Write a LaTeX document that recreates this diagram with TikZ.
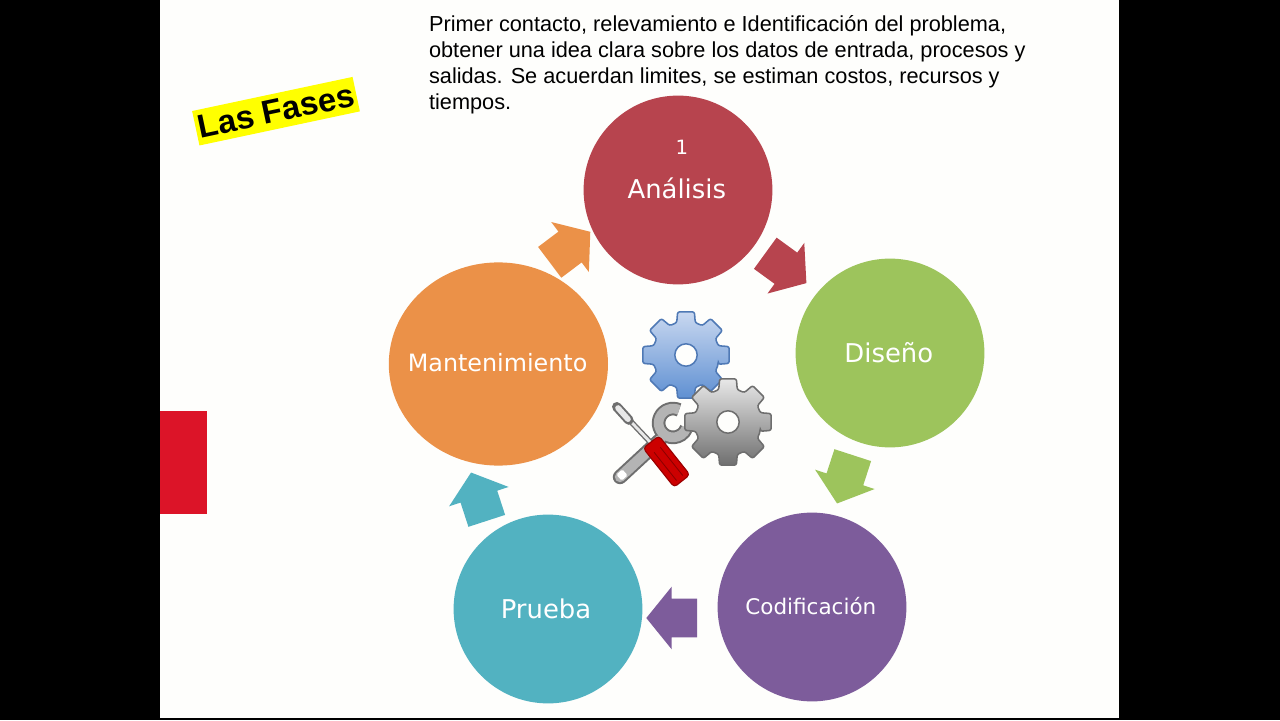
\documentclass[tikz,border=0pt]{standalone}
\usepackage{fontspec}
\setmainfont{Liberation Sans}
\newfontfamily\circfont{DejaVu Sans}
\usetikzlibrary{shapes.arrows,shapes.geometric}
\definecolor{rojofase}{HTML}{B7444E}
\definecolor{verdefase}{HTML}{9DC45C}
\definecolor{moradofase}{HTML}{7D5C9B}
\definecolor{turquesa}{HTML}{52B2C1}
\definecolor{naranja}{HTML}{EB9148}
\definecolor{fondo}{HTML}{FEFEFC}
\definecolor{rojobarra}{HTML}{DC1428}
\definecolor{amarillo}{HTML}{FFFF00}
\definecolor{azulclaro}{HTML}{C9D8F0}
\definecolor{azuloscuro}{HTML}{5F90D2}
\definecolor{azulborde}{HTML}{4F79B5}
\definecolor{grisclaro}{HTML}{E8E8E8}
\definecolor{grisoscuro}{HTML}{6F6F6F}
\definecolor{grisborde}{HTML}{6E6E6E}
\definecolor{grismedio}{HTML}{B4B4B4}
\tikzset{
  fase/.style={circle, minimum size=4.72cm, inner sep=0pt},
  fasetxt/.style={text=white, inner sep=0pt, font=\circfont\fontsize{18.4}{22}\selectfont},
  flecha/.style={single arrow, inner xsep=0pt, inner ysep=0.475cm, minimum width=1.55cm, minimum height=1.27cm,
    single arrow head extend=0.3cm, single arrow head indent=0pt, single arrow tip angle=102, fill=#1},
}
\newcommand{\rueda}[4]{%
  \draw[#4, line width=1.1pt, rounded corners=1.5pt, even odd rule, top color=#2, bottom color=#3, shift={#1}]
    (-16:0.84) \foreach \a in {0,45,...,315} {
      -- ({\a-16}:0.84) -- ({\a-11}:1.1) -- ({\a+11}:1.1) -- ({\a+16}:0.84)
    } -- cycle (0,0) circle (0.28);
}
\begin{document}
\begin{tikzpicture}
  \useasboundingbox (0,0) rectangle (32,18);
  \fill[black] (0,0) rectangle (32,18);
  \fill[fondo] (4,0.05) rectangle (27.975,18);
  \fill[rojobarra] (4,5.15) rectangle (5.18,7.72);

  % Title and text
  \node[fill=amarillo, rotate=12, inner sep=0pt, minimum width=4.1cm, minimum height=0.88cm,
    font=\bfseries\fontsize{23.4}{26}\selectfont] (titulo) at (6.9,15.22) {Las Fases};
  \node[anchor=north west, align=left, inner sep=0pt, font=\fontsize{15.45}{18.5}\selectfont] (texto) at (10.72,17.62)
    {Primer contacto, relevamiento e Identificación del problema,\\
     obtener una idea clara sobre los datos de entrada, procesos y\\
     salidas. Se acuerdan limites, se estiman costos, recursos y\\
     tiempos.};

  % Phases
  \node[fase, fill=rojofase] (analisis) at (16.95,13.25) {};
  \node[fase, fill=verdefase] (diseno) at (22.25,9.175) {};
  \node[fase, fill=moradofase] (codificacion) at (20.3,2.825) {};
  \node[fase, fill=turquesa] (prueba) at (13.7,2.775) {};
  \node[ellipse, inner sep=0pt, fill=naranja, minimum width=5.48cm, minimum height=5.08cm] (mantenimiento) at (12.46,8.9) {};

  \node[fasetxt] (analisistxt) at (16.92,13.28) {Análisis};
  \node[fasetxt, font=\circfont\fontsize{14}{16}\selectfont] (uno) at (17.05,14.32) {1};
  \node[fasetxt] (disenotxt) at (22.22,9.175) {Diseño};
  \node[fasetxt, font=\circfont\fontsize{15.3}{18}\selectfont] (codificaciontxt) at (20.27,2.85) {Codificación};
  \node[fasetxt] (pruebatxt) at (13.65,2.775) {Prueba};
  \node[fasetxt, font=\circfont\fontsize{16.95}{20}\selectfont] (mantenimientotxt) at (12.44,8.93) {Mantenimiento};

  % Arrows between phases
  \node[flecha=rojofase, rotate=-36] (f1) at (19.488,11.41) {};
  \node[flecha=verdefase, rotate=-108] (f2) at (21.183,6.203) {};
  \node[flecha=moradofase, rotate=180] (f3) at (16.988,2.55) {};
  \node[flecha=turquesa, rotate=108] (f4) at (12.033,5.397) {};
  \node[flecha=naranja, rotate=37] (f5) at (14.094,11.706) {};

  % Gears and tools
  \rueda{(17.15,9.125)}{azulclaro}{azuloscuro}{azulborde}
  \draw[line width=0.36cm, line cap=round, grisborde] (15.5,6.075) -- (16.5,7.0);
  \draw[line width=0.34cm, grisborde] (16.825,7.425) ++(65:0.36) arc (65:338:0.36);
  \draw[line width=0.26cm, line cap=round, grismedio] (15.5,6.075) -- (16.5,7.0);
  \draw[line width=0.24cm, grismedio] (16.825,7.425) ++(65:0.36) arc (65:338:0.36);
  \fill[white, rounded corners=1pt, rotate around={42:(15.55,6.125)}] (15.45,6.025) rectangle (15.65,6.225);
  \rueda{(18.2,7.45)}{grisclaro}{grisoscuro}{grisborde}
  \draw[line width=0.14cm, grisborde] (15.45,7.8) -- (16.3,6.9);
  \draw[line width=0.07cm, grisclaro] (15.45,7.8) -- (16.3,6.9);
  \draw[line width=0.24cm, line cap=round, grisborde] (15.42,7.83) -- (15.72,7.5);
  \draw[line width=0.14cm, line cap=round, grisclaro] (15.45,7.8) -- (15.7,7.52);
  \begin{scope}[shift={(16.275,6.95)}, rotate=-51.5]
    \draw[red!60!black, fill=red!80!black, line width=0.8pt, rounded corners=2.5pt] (0,-0.25) rectangle (1.245,0.25);
    \draw[red!55!black, line width=0.6pt] (0.25,-0.1) -- (1.15,-0.1);
    \draw[red!55!black, line width=0.6pt] (0.25,0.1) -- (1.15,0.1);
  \end{scope}
\end{tikzpicture}
\end{document}
